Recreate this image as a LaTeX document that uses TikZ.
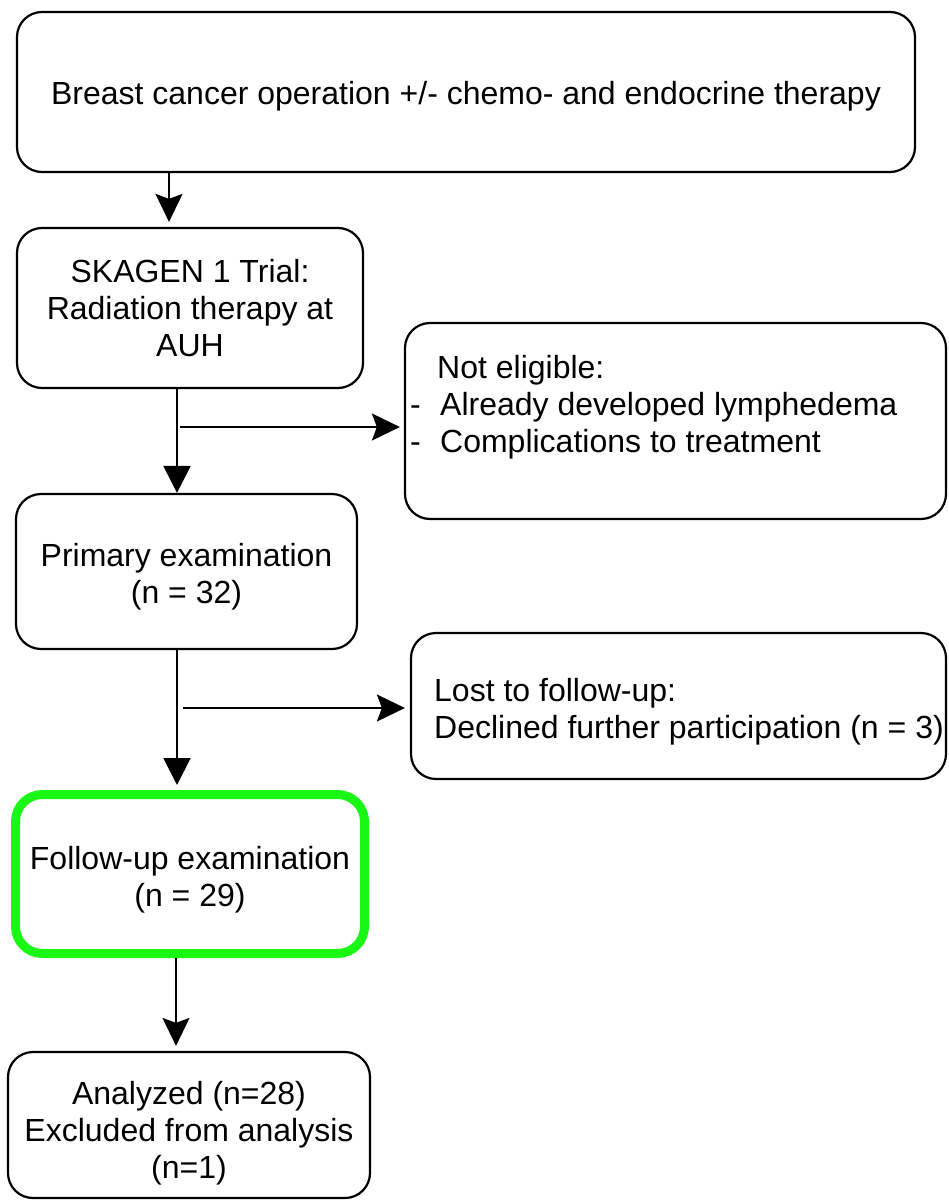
\documentclass[tikz,border=0pt]{standalone}
\usepackage{fontspec}
\setmainfont{Liberation Sans}
\usetikzlibrary{arrows.meta}
\definecolor{boxgreen}{RGB}{24,248,20}
\tikzset{
  txtfont/.style={font=\fontsize{32}{37}\selectfont},
  flowbox/.style={draw=black, line width=2.2pt, rounded corners=25pt, inner sep=0pt},
  greenbox/.style={flowbox, draw=boxgreen, line width=9pt, rounded corners=27pt},
  boxtext/.style={inner sep=0pt, align=center, txtfont},
  sidetext/.style={inner sep=0pt, align=left, anchor=west, txtfont},
  flowline/.style={line width=2pt, draw=black},
  tri/.style={-{Triangle[width=27pt,length=27pt]}},
  stl/.style={-{Stealth[width=27pt,length=28pt,inset=5pt]}},
}
\begin{document}
\begin{tikzpicture}[x=1pt,y=-1pt]
\useasboundingbox (0,0) rectangle (948,1201);
% boxes
\node[flowbox, minimum width=898pt, minimum height=160pt] (b1) at (466,92) {};
\node[boxtext] (t1) at (466,96.5) {Breast cancer operation +/- chemo- and endocrine therapy};
\node[flowbox, minimum width=346pt, minimum height=160pt] (b2) at (190,308) {};
\node[boxtext] (t2) at (190,308.5) {SKAGEN 1 Trial:\\Radiation therapy at\\AUH};
\node[flowbox, minimum width=541pt, minimum height=196pt] (b3) at (675.5,421) {};
\node[sidetext] (t3) at (410,407)
  {\makebox[27pt][l]{}Not eligible:\\\makebox[30pt][l]{-}Already developed lymphedema\\\makebox[30pt][l]{-}Complications to treatment};
\node[flowbox, minimum width=341pt, minimum height=155pt] (b4) at (186.5,571.5) {};
\node[boxtext] (t4) at (186.5,577) {Primary examination\\(n = 32)};
\node[flowbox, minimum width=535pt, minimum height=146pt] (b5) at (678.5,706) {};
\node[sidetext] (t5) at (434,712)
  {Lost to follow-up:\\Declined further participation (n = 3)};
\node[greenbox, minimum width=349pt, minimum height=159pt] (b6) at (190,874) {};
\node[boxtext] (t6) at (190,879.5) {Follow-up examination\\(n = 29)};
\node[flowbox, minimum width=362pt, minimum height=146pt] (b7) at (189,1125) {};
\node[boxtext] (t7) at (189,1133.5) {Analyzed (n=28)\\Excluded from analysis\\(n=1)};
% junction points on the vertical connectors
\coordinate (j1) at (180,427);
\coordinate (j2) at (183,708);
% connectors
\draw[flowline, stl, shorten >=5pt] (b1.south -| 169,0) -- (b2.north -| 169,0);
\draw[flowline, tri] (b2.south -| 177,0) -- (b4.north -| 177,0);
\draw[flowline, stl, shorten >=4pt] (j1) -- (j1 -| b3.west);
\draw[flowline, tri, shorten >=5pt] (b4.south -| 177,0) -- (b6.north -| 177,0);
\draw[flowline, stl, shorten >=5pt] (j2) -- (j2 -| b5.west);
\draw[flowline, stl, shorten >=5pt] (b6.south -| 176,0) -- (b7.north -| 176,0);
\end{tikzpicture}
\end{document}
